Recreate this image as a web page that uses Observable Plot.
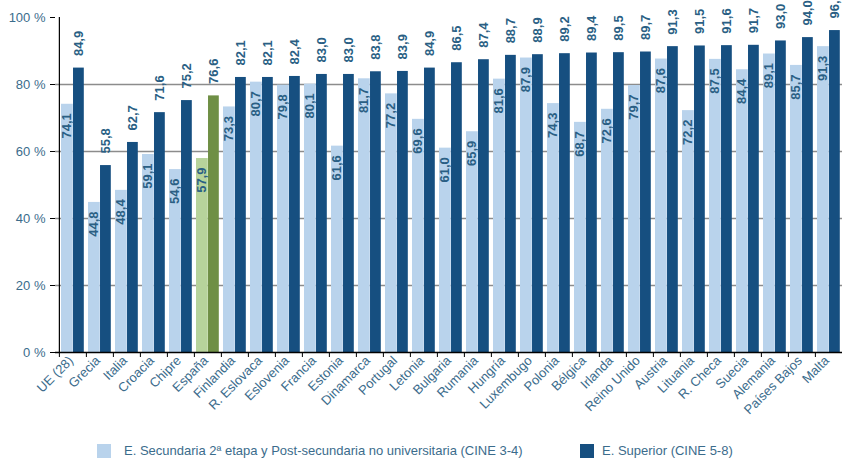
<!DOCTYPE html>
<html><head><meta charset="utf-8">
<script src="https://cdn.jsdelivr.net/npm/d3@7"></script>
<script src="https://cdn.jsdelivr.net/npm/@observablehq/plot@0.6"></script>
<style>
body{margin:0;background:#fff;font-family:"Liberation Sans",Arial,sans-serif;}
#wrap{position:relative;width:842px;height:460px;overflow:hidden;}
.legend{position:absolute;left:0;top:0;width:842px;height:460px;pointer-events:none;font-size:13px;color:#3b6c8c}
.sw{position:absolute;width:14px;height:14px;top:444px}
.lt{position:absolute;top:443px;white-space:nowrap;line-height:16px}
</style></head><body><div id="wrap"></div>
<script>
const countries = ["UE (28)","Grecia","Italia","Croacia","Chipre","España","Finlandia","R. Eslovaca","Eslovenia","Francia","Estonia","Dinamarca","Portugal","Letonia","Bulgaria","Rumania","Hungría","Luxembugo","Polonia","Bélgica","Irlanda","Reino Unido","Austria","Lituania","R. Checa","Suecia","Alemania","Países Bajos","Malta"];
const secundaria = [74.1,44.8,48.4,59.1,54.6,57.9,73.3,80.7,79.8,80.1,61.6,81.7,77.2,69.6,61.0,65.9,81.6,87.9,74.3,68.7,72.6,79.7,87.6,72.2,87.5,84.4,89.1,85.7,91.3];
const superior = [84.9,55.8,62.7,71.6,75.2,76.6,82.1,82.1,82.4,83.0,83.0,83.8,83.9,84.9,86.5,87.4,88.7,88.9,89.2,89.4,89.5,89.7,91.3,91.5,91.6,91.7,93.0,94.0,96.1];
const yTicks = [0,20,40,60,80,100];
const gridTicks = [20,40,60,80];
const seriesNames = ["E. Secundaria 2ª etapa y Post-secundaria no universitaria (CINE 3-4)","E. Superior (CINE 5-8)"];
const highlight = "España";

const C = {light:"#b9d3ec", dark:"#164f80", lightHi:"#b7d39b", darkHi:"#6f8f45", text:"#3b6c8c", label:"#2a5f84", grid:"#8c8c8c"};
const W = 842, H = 440, mL = 55, mR = -3, mT = 17, mB = 88;
const bw = (W - mR - mL) / countries.length;
const rows = countries.map((c, i) => ({country: c, sec: secundaria[i], sup: superior[i]}));
const fmt = v => d3.format(".1f")(v).replace(".", ",");
const font = "'Liberation Sans', Arial, sans-serif";

const chart = Plot.plot({
  width: W, height: H,
  marginLeft: mL, marginRight: mR, marginTop: mT, marginBottom: mB,
  style: {fontFamily: font, fontSize: "13px", background: "transparent", overflow: "visible"},
  x: {type: "band", domain: countries, padding: 0, axis: null, label: null},
  y: {domain: [0, 100], axis: null, label: null},
  color: {type: "identity"},
  marks: [
    Plot.ruleY(gridTicks, {stroke: C.grid, strokeWidth: 1.5}),
    Plot.barY(rows, {x: "country", y: "sec", fill: d => d.country === highlight ? C.lightHi : C.light, insetLeft: 2, insetRight: bw / 2 - 0.4}),
    Plot.barY(rows, {x: "country", y: "sup", fill: d => d.country === highlight ? C.darkHi : C.dark, insetLeft: bw / 2 + 0.4, insetRight: 2.2}),
    Plot.ruleY([0], {stroke: "#000", strokeWidth: 1.5}),
    Plot.ruleX([countries[0]], {y1: 0, y2: 100, dx: -bw / 2, stroke: "#000", strokeWidth: 1.2}),
    Plot.axisY(yTicks, {tickSize: 5, tickPadding: 5, tickFormat: d => d + " %", stroke: "#000", color: C.text, fill: C.text, fontSize: 13, label: null}),
    Plot.axisX(countries, {tickSize: 5, tickFormat: () => "", dx: -bw / 2, stroke: "#000", label: null}),
    Plot.axisX(countries, {tickSize: 0, tickPadding: 6, tickRotate: -45, fill: C.text, color: C.text, fontSize: 13, dx: -2, label: null}),
    Plot.text(rows, {x: "country", y: "sec", text: d => fmt(d.sec), rotate: -90, textAnchor: "end", dx: -6, dy: 9, fill: C.label, fontSize: 13, fontWeight: "bold"}),
    Plot.text(rows, {x: "country", y: "sup", text: d => fmt(d.sup), rotate: -90, textAnchor: "start", dx: 6, dy: -12, fill: C.label, fontSize: 13, fontWeight: "bold"})
  ]
});
const wrap = document.getElementById("wrap");
wrap.appendChild(chart);
const leg = document.createElement("div");
leg.className = "legend";
const legendItems = [
  {name: seriesNames[0], color: C.light, sx: 97, tx: 124},
  {name: seriesNames[1], color: C.dark, sx: 580, tx: 602}
];
for (const it of legendItems) {
  const s = document.createElement("div");
  s.className = "sw"; s.style.left = it.sx + "px"; s.style.background = it.color;
  const t = document.createElement("div");
  t.className = "lt"; t.style.left = it.tx + "px"; t.textContent = it.name;
  leg.appendChild(s); leg.appendChild(t);
}
wrap.appendChild(leg);
</script></body></html>
